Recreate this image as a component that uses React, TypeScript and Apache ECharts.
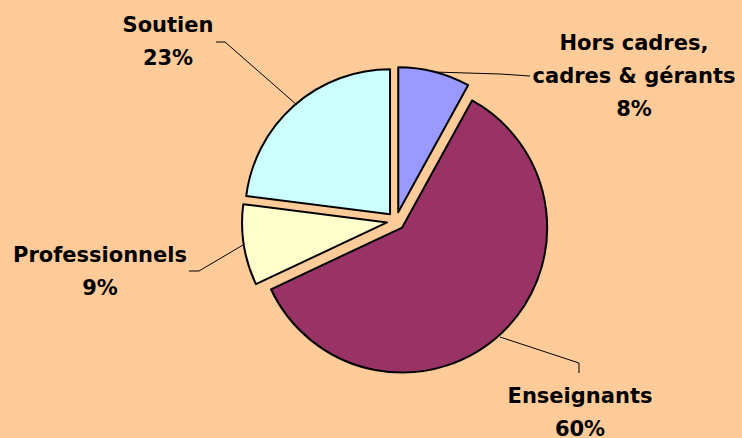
import React, { useEffect, useRef } from "react";
import * as echarts from "echarts";

const categories = ["Hors cadres,\ncadres & gérants", "Enseignants", "Professionnels", "Soutien"];
const values = [8, 60, 9, 23];
const colors = ["#9999FF", "#993366", "#FFFFCC", "#CCFFFF"];

// label placement (text block centre + leader line points), in chart pixels
const labelPlacement = [
  { x: 634, y: 76, line: [[434, 72], [500, 74], [530, 76]] },
  { x: 580, y: 412, line: [[500, 337], [579, 363], [579, 373]] },
  { x: 100, y: 271, line: [[243, 245], [199, 271], [189, 271]] },
  { x: 168, y: 41, line: [[297, 105], [225, 42], [216, 42]] },
];

export default function App() {
  const ref = useRef<HTMLDivElement>(null);
  useEffect(() => {
    const chart = echarts.init(ref.current!, undefined, { renderer: "svg" });
    const graphics: any[] = [];
    categories.forEach((name, i) => {
      const L = labelPlacement[i];
      graphics.push({
        type: "polyline",
        z: 10,
        shape: { points: L.line },
        style: { stroke: "#000000", lineWidth: 1, fill: "none" },
      });
      graphics.push({
        type: "text",
        z: 10,
        x: L.x,
        y: L.y,
        style: {
          text: `${name}\n${values[i]}%`,
          fill: "#000000",
          fontFamily: "DejaVu Sans",
          fontWeight: "bold",
          fontSize: 21,
          lineHeight: 33,
          align: "center",
          verticalAlign: "middle",
        },
      });
    });
    chart.setOption({
      animation: false,
      backgroundColor: "#FFCC99",
      graphic: graphics,
      series: [
        {
          type: "pie",
          center: [396, 221],
          radius: [0, 145],
          startAngle: 90,
          clockwise: true,
          selectedMode: "multiple",
          selectedOffset: 9,
          itemStyle: { borderColor: "#000000", borderWidth: 2 },
          select: { itemStyle: { borderColor: "#000000", borderWidth: 2 } },
          emphasis: { disabled: true },
          label: { show: false },
          labelLine: { show: false },
          data: categories.map((name, i) => ({
            name,
            value: values[i],
            selected: true,
            itemStyle: { color: colors[i] },
          })),
        },
      ],
    });
    return () => chart.dispose();
  }, []);
  return (
    <div
      ref={ref}
      style={{ position: "fixed", left: 0, top: 0, width: 742, height: 438 }}
    />
  );
}
